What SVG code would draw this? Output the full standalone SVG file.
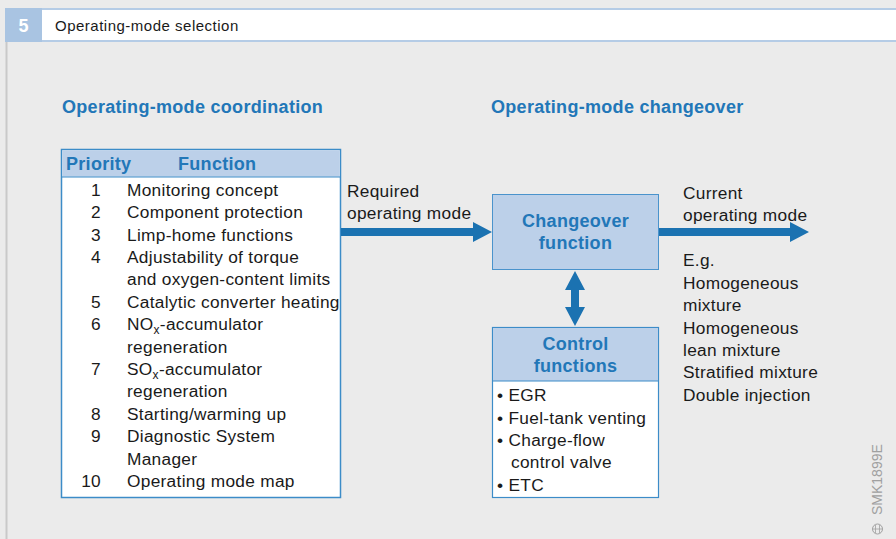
<svg xmlns="http://www.w3.org/2000/svg" width="896" height="539" viewBox="0 0 896 539">
<defs>
<style>
.t{font-family:"Liberation Sans",Arial,sans-serif;font-size:17.3px;letter-spacing:0.3px;fill:#1a1a1a}
.b{font-family:"Liberation Sans",Arial,sans-serif;font-size:18px;letter-spacing:0.3px;font-weight:bold;fill:#2277b8}
.n{text-anchor:end}
.c{text-anchor:middle}
.arr{fill:#1b72b1}
</style>
</defs>
<rect width="896" height="539" fill="#ebebeb"/>
<g id="header">
<rect x="5" y="8" width="891" height="2" fill="#b5cce6"/>
<rect x="42" y="10" width="854" height="30" fill="#ffffff"/>
<rect x="42" y="40" width="854" height="2" fill="#b5cce6"/>
<rect x="5" y="8" width="37" height="34" fill="#a9c4e2"/>
<text x="23.5" y="32" class="c" style="font-family:'Liberation Sans',Arial,sans-serif;font-size:18px;font-weight:bold;fill:#ffffff">5</text>
<text x="55" y="31" style="font-family:'Liberation Sans',Arial,sans-serif;font-size:15px;letter-spacing:0.5px;fill:#1a1a1a">Operating-mode selection</text>
<rect x="5.5" y="42" width="2" height="497" fill="#c9c9c9"/>
</g>
<text x="62" y="113" class="b">Operating-mode coordination</text>
<text x="491" y="113" class="b">Operating-mode changeover</text>
<g id="priority-table">
<rect x="61.5" y="149.5" width="279" height="348" fill="#ffffff" stroke="#3c8cc8" stroke-width="1.5"/>
<rect x="62.25" y="150.25" width="277.5" height="26.5" fill="#bcd0e9"/>
<line x1="61.5" y1="177" x2="340.5" y2="177" stroke="#3c8cc8" stroke-width="1"/>
<text x="66" y="170" class="b">Priority</text>
<text x="178" y="170" class="b">Function</text>
<text x="101" y="196" class="t n">1</text><text x="127" y="196" class="t">Monitoring concept</text>
<text x="101" y="218" class="t n">2</text><text x="127" y="218" class="t">Component protection</text>
<text x="101" y="241" class="t n">3</text><text x="127" y="241" class="t">Limp-home functions</text>
<text x="101" y="263" class="t n">4</text><text x="127" y="263" class="t">Adjustability of torque</text>
<text x="127" y="285" class="t">and oxygen-content limits</text>
<text x="101" y="308" class="t n">5</text><text x="127" y="308" class="t">Catalytic converter heating</text>
<text x="101" y="330" class="t n">6</text><text x="127" y="330" class="t">NO<tspan font-size="12" dy="4">x</tspan><tspan dy="-4">-accumulator</tspan></text>
<text x="127" y="353" class="t">regeneration</text>
<text x="101" y="375" class="t n">7</text><text x="127" y="375" class="t">SO<tspan font-size="12" dy="4">x</tspan><tspan dy="-4">-accumulator</tspan></text>
<text x="127" y="397" class="t">regeneration</text>
<text x="101" y="420" class="t n">8</text><text x="127" y="420" class="t">Starting/warming up</text>
<text x="101" y="442" class="t n">9</text><text x="127" y="442" class="t">Diagnostic System</text>
<text x="127" y="465" class="t">Manager</text>
<text x="101" y="487" class="t n">10</text><text x="127" y="487" class="t">Operating mode map</text>
</g>
<g id="changeover-function">
<rect x="492.5" y="194.5" width="166" height="75" fill="#bcd0e9" stroke="#4a93cc" stroke-width="1"/>
<text x="575.5" y="227" class="b c">Changeover</text>
<text x="575.5" y="249" class="b c">function</text>
</g>
<g id="control-functions">
<rect x="492.5" y="327.5" width="166" height="170" fill="#ffffff" stroke="#3c8cc8" stroke-width="1.2"/>
<rect x="493" y="328" width="165" height="53" fill="#bcd0e9"/>
<line x1="492.5" y1="381" x2="658.5" y2="381" stroke="#3c8cc8" stroke-width="1"/>
<text x="575.5" y="350" class="b c">Control</text>
<text x="575.5" y="372" class="b c">functions</text>
<text x="497" y="401" class="t">• EGR</text>
<text x="497" y="424" class="t">• Fuel-tank venting</text>
<text x="497" y="446" class="t">• Charge-flow</text>
<text x="511" y="468" class="t">control valve</text>
<text x="497" y="491" class="t">• ETC</text>
</g>
<g id="labels">
<text x="347" y="197" class="t">Required</text>
<text x="347" y="219" class="t">operating mode</text>
<text x="683" y="199" class="t">Current</text>
<text x="683" y="221" class="t">operating mode</text>
<text x="683" y="266" class="t">E.g.</text>
<text x="683" y="289" class="t">Homogeneous</text>
<text x="683" y="311" class="t">mixture</text>
<text x="683" y="334" class="t">Homogeneous</text>
<text x="683" y="356" class="t">lean mixture</text>
<text x="683" y="378" class="t">Stratified mixture</text>
<text x="683" y="401" class="t">Double injection</text>
</g>
<g id="connectors">
<path class="arr" d="M341 228 H473 V222 L492 232 L473 242 V236 H341 Z"/>
<path class="arr" d="M659 228 H790 V222 L809 232 L790 242 V236 H659 Z"/>
<path class="arr" d="M575 271 L585 290 H579 V307 H585 L575 326 L565 307 H571 V290 H565 Z"/>
</g>
<g id="code">
<text transform="translate(882 515) rotate(-90)" style="font-family:'Liberation Sans',Arial,sans-serif;font-size:14px;fill:#a0a0a0">SMK1899E</text>
<circle cx="877.5" cy="529" r="5" fill="none" stroke="#a0a0a0" stroke-width="1"/>
<line x1="873" y1="529" x2="882" y2="529" stroke="#a0a0a0" stroke-width="0.8"/>
<line x1="875.5" y1="525" x2="875.5" y2="533" stroke="#a0a0a0" stroke-width="0.8"/>
<line x1="879.5" y1="525" x2="879.5" y2="533" stroke="#a0a0a0" stroke-width="0.8"/>
</g>
</svg>
